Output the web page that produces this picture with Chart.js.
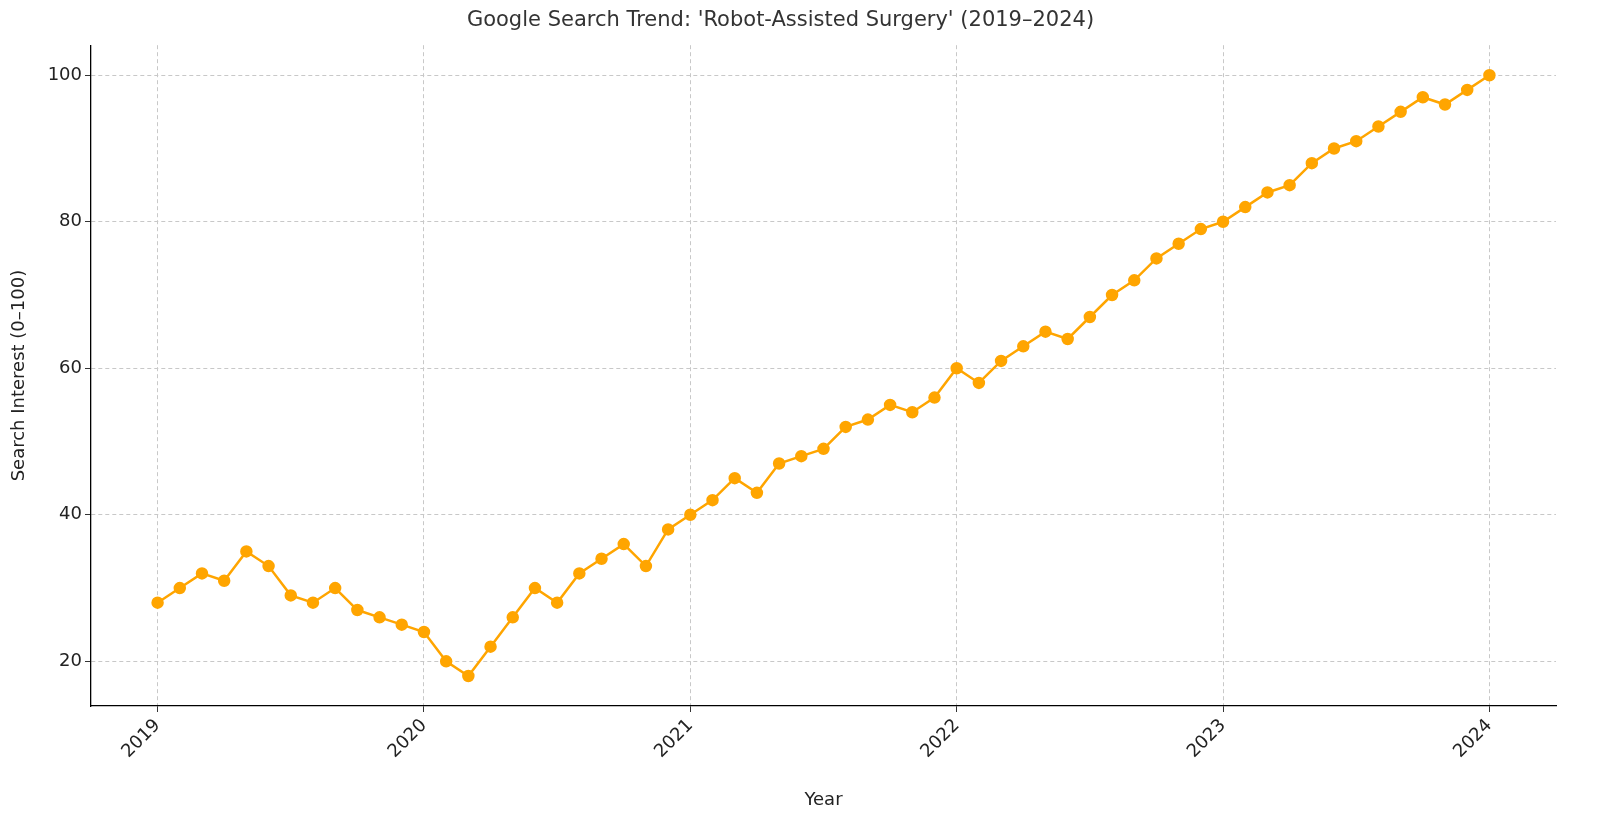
<!DOCTYPE html>
<html><head><meta charset="utf-8">
<script src="https://cdn.jsdelivr.net/npm/chart.js@4"></script>
<style>html,body{margin:0;background:#fff}#w{width:1600px;height:827px}</style>
</head><body><div id="w"><canvas id="c"></canvas></div>
<script>
const years = [2019, 2020, 2021, 2022, 2023, 2024];
const values = [
  28,30,32,31,35,33,29,28,30,27,26,25,
  24,20,18,22,26,30,28,32,34,36,33,38,
  40,42,45,43,47,48,49,52,53,55,54,56,
  60,58,61,63,65,64,67,70,72,75,77,79,
  80,82,84,85,88,90,91,93,95,97,96,98,
  100
];
const yTicks = [20, 40, 60, 80, 100];
const pts = values.map((v, i) => ({x: i, y: v}));
const F = "'DejaVu Sans', sans-serif";
new Chart(document.getElementById('c'), {
  type: 'line',
  data: {datasets: [{data: pts, borderColor: '#FFA500', backgroundColor: '#FFA500',
    borderWidth: 2.5, pointRadius: 5, pointHoverRadius: 5, tension: 0}]},
  options: {
    responsive: true, maintainAspectRatio: false, animation: false,
    layout: {padding: {top: 0, right: 44, left: 5, bottom: 12}},
    plugins: {legend: {display: false}, tooltip: {enabled: false},
      title: {display: true, text: "Google Search Trend: 'Robot-Assisted Surgery' (2019–2024)",
        color: '#333', font: {family: F, size: 21, weight: 'normal'}, padding: {top: 8, bottom: 12}}},
    scales: {
      x: {type: 'linear', min: -3, max: 63,
        afterBuildTicks: a => { a.ticks = years.map((y, i) => ({value: i * 12})); },
        afterFit: a => { a.height = 109; },
        ticks: {color: '#222', font: {family: F, size: 18}, maxRotation: 45, minRotation: 45,
          callback: v => years[v / 12]},
        grid: {color: '#c8c8c8', tickColor: '#333', tickLength: 6},
        border: {display: true, color: '#000', width: 1.3, dash: [4, 3]},
        title: {display: true, text: 'Year', color: '#222', font: {family: F, size: 18}}},
      y: {min: 13.9, max: 104.1,
        afterBuildTicks: a => { a.ticks = yTicks.map(v => ({value: v})); },
        afterFit: a => { a.width = 86; },
        ticks: {color: '#222', font: {family: F, size: 18}},
        grid: {color: '#c8c8c8', tickColor: '#333', tickLength: 6},
        border: {display: true, color: '#000', width: 1.3, dash: [4, 3]},
        title: {display: true, text: 'Search Interest (0–100)', color: '#222', font: {family: F, size: 18}}}
    }
  }
});
</script></body></html>
